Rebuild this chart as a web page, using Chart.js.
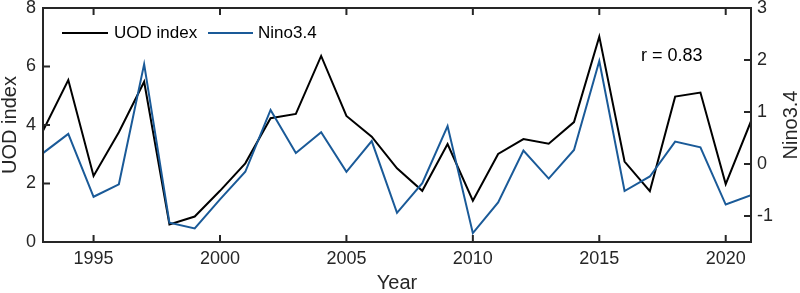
<!DOCTYPE html>
<html>
<head>
<meta charset="utf-8">
<script src="https://cdn.jsdelivr.net/npm/chart.js@4/dist/chart.umd.min.js"></script>
<style>
  html, body { margin:0; padding:0; background:#fff; }
</style>
</head>
<body>
<canvas id="uodChart" width="800" height="293"></canvas>
<script>
// values
const years = [1993,1994,1995,1996,1997,1998,1999,2000,2001,2002,2003,2004,2005,2006,2007,
               2008,2009,2010,2011,2012,2013,2014,2015,2016,2017,2018,2019,2020,2021];
const uodIndex = [3.80,5.54,2.26,3.75,5.48,0.60,0.87,1.75,2.69,4.23,4.38,6.36,4.31,3.60,2.52,
                  1.75,3.35,1.41,3.01,3.52,3.36,4.10,7.02,2.75,1.74,4.97,5.11,1.98,4.13];
const nino34 = [0.21,0.58,-0.63,-0.39,1.92,-1.13,-1.24,-0.68,-0.15,1.04,0.21,0.61,-0.15,0.44,-0.94,
                -0.37,0.73,-1.33,-0.74,0.26,-0.28,0.27,1.98,-0.52,-0.24,0.43,0.32,-0.78,-0.60];
const xTicks = [1995,2000,2005,2010,2015,2020];
const uodTicks = [0,2,4,6,8];
const ninoTicks = [-1,0,1,2,3];
const corrText = 'r = 0.83';

const FONT = '"Liberation Sans", Arial, sans-serif';
const AXIS = '#262626';
const BLUE = '#1a5a98';

// top edge, inward ticks, titles, legend and r label
const decor = {
    id: 'decor',
    afterDraw(chart) {
        const ctx = chart.ctx;
        const a = chart.chartArea;
        const sx = chart.scales.x, sy = chart.scales.y, sy2 = chart.scales.y2;
        const tl = 7;
        ctx.save();
        ctx.strokeStyle = AXIS;
        ctx.lineWidth = 2;
        ctx.beginPath();
        ctx.moveTo(a.left - 1, a.top);
        ctx.lineTo(a.right + 1, a.top);
        xTicks.forEach(v => {
            const px = sx.getPixelForValue(v);
            ctx.moveTo(px, a.bottom); ctx.lineTo(px, a.bottom - tl);
            ctx.moveTo(px, a.top); ctx.lineTo(px, a.top + tl);
        });
        uodTicks.forEach(v => {
            const py = sy.getPixelForValue(v);
            ctx.moveTo(a.left, py); ctx.lineTo(a.left + tl, py);
        });
        ninoTicks.forEach(v => {
            const py = sy2.getPixelForValue(v);
            ctx.moveTo(a.right, py); ctx.lineTo(a.right - tl, py);
        });
        ctx.stroke();

        ctx.fillStyle = AXIS;
        ctx.font = '20px ' + FONT;
        ctx.textAlign = 'center';
        ctx.textBaseline = 'middle';
        ctx.fillText('Year', (a.left + a.right) / 2, 283);
        const midY = (a.top + a.bottom) / 2;
        ctx.save(); ctx.translate(10, midY); ctx.rotate(-Math.PI / 2);
        ctx.fillText('UOD index', 0, 0); ctx.restore();
        ctx.save(); ctx.translate(791, midY); ctx.rotate(-Math.PI / 2);
        ctx.fillText('Nino3.4', 0, 0); ctx.restore();

        ctx.font = '17px ' + FONT;
        ctx.textAlign = 'left';
        ctx.fillStyle = '#000';
        const ly = 33;
        ctx.strokeStyle = '#000';
        ctx.beginPath(); ctx.moveTo(62, ly); ctx.lineTo(108, ly); ctx.stroke();
        ctx.fillText('UOD index', 114, ly);
        ctx.strokeStyle = BLUE;
        ctx.beginPath(); ctx.moveTo(208, ly); ctx.lineTo(253, ly); ctx.stroke();
        ctx.fillText('Nino3.4', 258, ly);

        ctx.font = '18px ' + FONT;
        ctx.fillText(corrText, sx.getPixelForValue(2016.65), sy.getPixelForValue(6.36));
        ctx.restore();
    }
};

const noOverflow = s => { s.paddingTop = 0; s.paddingBottom = 0; s.paddingLeft = 0; s.paddingRight = 0; };
const axisGrid = { display: true, drawOnChartArea: false, drawTicks: false };
const axisBorder = { display: true, color: AXIS, width: 2, z: 1 };

new Chart(document.getElementById('uodChart'), {
    type: 'line',
    data: {
        datasets: [
            { label: 'UOD index', data: years.map((yr, i) => ({ x: yr, y: uodIndex[i] })),
              borderColor: '#000', borderWidth: 2, pointRadius: 0, yAxisID: 'y', order: 2 },
            { label: 'Nino3.4', data: years.map((yr, i) => ({ x: yr, y: nino34[i] })),
              borderColor: BLUE, borderWidth: 2, pointRadius: 0, yAxisID: 'y2', order: 1 }
        ]
    },
    options: {
        responsive: false,
        animation: false,
        layout: { padding: { top: 8, left: 0, right: 0, bottom: 0 } },
        plugins: { legend: { display: false }, tooltip: { enabled: false } },
        scales: {
            x: {
                type: 'linear', min: 1993, max: 2021,
                afterBuildTicks: s => { s.ticks = xTicks.map(v => ({ value: v })); },
                afterFit: s => { s.height = 51; noOverflow(s); },
                grid: axisGrid, border: axisBorder,
                ticks: { padding: 6, color: AXIS, font: { family: FONT, size: 18 }, callback: v => String(v) }
            },
            y: {
                position: 'left', min: 0, max: 8,
                afterBuildTicks: s => { s.ticks = uodTicks.map(v => ({ value: v })); },
                afterFit: s => { s.width = 43; noOverflow(s); },
                grid: axisGrid, border: axisBorder,
                ticks: { padding: 7, color: AXIS, font: { family: FONT, size: 18 } }
            },
            y2: {
                position: 'right', min: -1.5, max: 3,
                afterBuildTicks: s => { s.ticks = ninoTicks.map(v => ({ value: v })); },
                afterFit: s => { s.width = 49; noOverflow(s); },
                grid: axisGrid, border: axisBorder,
                ticks: { padding: 6, color: AXIS, font: { family: FONT, size: 18 } }
            }
        }
    },
    plugins: [decor]
});
</script>
</body>
</html>
